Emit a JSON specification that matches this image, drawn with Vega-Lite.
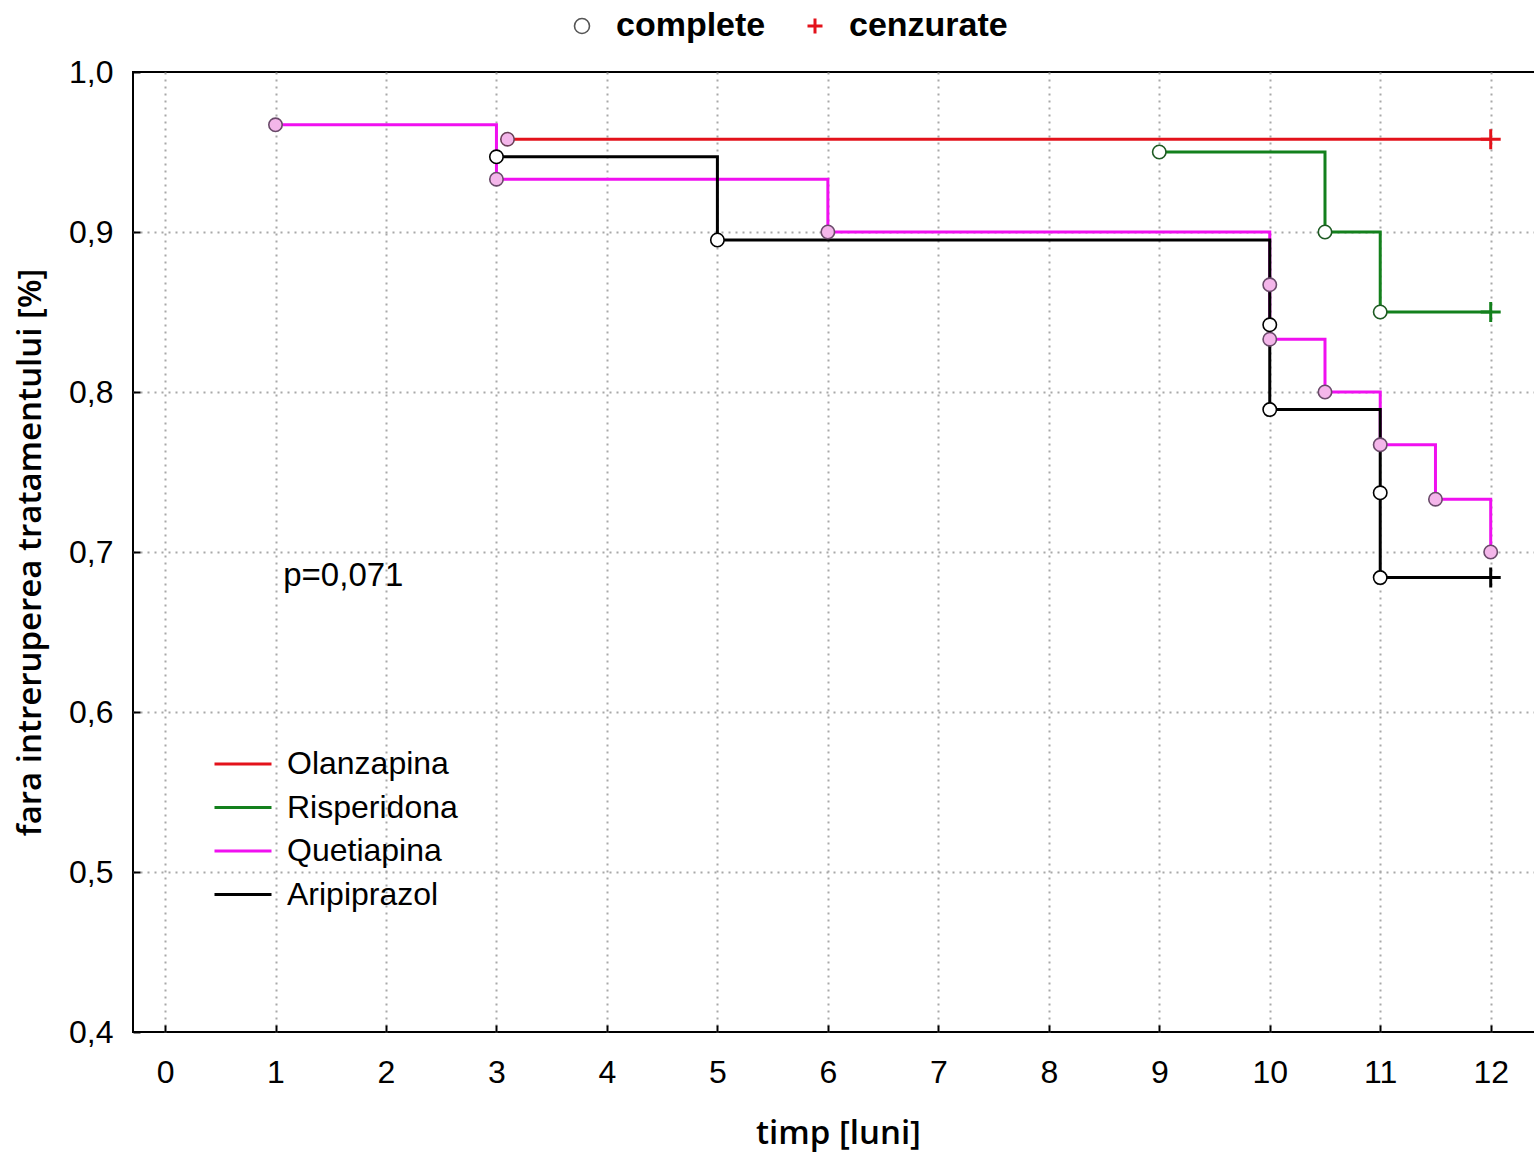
{
  "$schema": "https://vega.github.io/schema/vega-lite/v6.json",
  "width": 1403,
  "height": 960,
  "autosize": {"type": "none"},
  "padding": {"left": 133, "top": 72, "right": 0, "bottom": 121},
  "background": "white",
  "config": {
    "font": "Liberation Sans",
    "view": {"stroke": "black", "strokeWidth": 2},
    "axis": {"labelColor": "black", "titleColor": "black", "labelFont": "Liberation Sans", "labelFontSize": 32}
  },
  "datasets": {
    "km": [
      {"i": 1, "drug": "Olanzapina", "t": 3.1, "s": 0.958, "status": "complete"},
      {"i": 2, "drug": "Olanzapina", "t": 12, "s": 0.958, "status": "cenzurate"},
      {"i": 3, "drug": "Risperidona", "t": 9, "s": 0.95, "status": "complete"},
      {"i": 4, "drug": "Risperidona", "t": 10.5, "s": 0.9, "status": "complete"},
      {"i": 5, "drug": "Risperidona", "t": 11, "s": 0.85, "status": "complete"},
      {"i": 6, "drug": "Risperidona", "t": 12, "s": 0.85, "status": "cenzurate"},
      {"i": 7, "drug": "Quetiapina", "t": 1, "s": 0.967, "status": "complete"},
      {"i": 8, "drug": "Quetiapina", "t": 3, "s": 0.933, "status": "complete"},
      {"i": 9, "drug": "Quetiapina", "t": 6, "s": 0.9, "status": "complete"},
      {"i": 10, "drug": "Quetiapina", "t": 10, "s": 0.867, "status": "complete"},
      {"i": 11, "drug": "Quetiapina", "t": 10, "s": 0.833, "status": "complete"},
      {"i": 12, "drug": "Quetiapina", "t": 10.5, "s": 0.8, "status": "complete"},
      {"i": 13, "drug": "Quetiapina", "t": 11, "s": 0.767, "status": "complete"},
      {"i": 14, "drug": "Quetiapina", "t": 11.5, "s": 0.733, "status": "complete"},
      {"i": 15, "drug": "Quetiapina", "t": 12, "s": 0.7, "status": "complete"},
      {"i": 16, "drug": "Aripiprazol", "t": 3, "s": 0.947, "status": "complete"},
      {"i": 17, "drug": "Aripiprazol", "t": 5, "s": 0.895, "status": "complete"},
      {"i": 18, "drug": "Aripiprazol", "t": 10, "s": 0.842, "status": "complete"},
      {"i": 19, "drug": "Aripiprazol", "t": 10, "s": 0.789, "status": "complete"},
      {"i": 20, "drug": "Aripiprazol", "t": 11, "s": 0.737, "status": "complete"},
      {"i": 21, "drug": "Aripiprazol", "t": 11, "s": 0.684, "status": "complete"},
      {"i": 22, "drug": "Aripiprazol", "t": 12, "s": 0.684, "status": "cenzurate"}
    ],
    "note": [
      {"t": 1.07, "s": 0.685, "label": "p=0,071"}
    ]
  },
  "data": {"name": "km"},
  "resolve": {"scale": {"shape": "independent"}, "legend": {"shape": "independent"}},
  "encoding": {
    "x": {
      "field": "t", "type": "quantitative",
      "scale": {"domain": [-0.29, 12.41], "nice": false, "zero": false},
      "axis": {
        "values": [0,1,2,3,4,5,6,7,8,9,10,11,12],
        "domain": false,
        "tickSize": -7, "tickWidth": 2, "tickColor": "black",
        "labelPadding": 32,
        "grid": true, "gridDash": [2, 5], "gridColor": "#a8a8a8", "gridWidth": 2,
        "title": "timp [luni]",
        "titleFont": "Open Sans", "titleFontSize": 33, "titleFontWeight": 600,
        "titleX": 705, "titleY": 101, "titleBaseline": "middle"
      }
    },
    "y": {
      "field": "s", "type": "quantitative",
      "scale": {"domain": [0.4, 1.0], "nice": false, "zero": false},
      "axis": {
        "values": [0.4,0.5,0.6,0.7,0.8,0.9,1.0],
        "labelExpr": "replace(format(datum.value, '.1f'), '.', ',')",
        "domain": false,
        "tickSize": -7, "tickWidth": 2, "tickColor": "black",
        "labelPadding": 27,
        "grid": true, "gridDash": [2, 5], "gridColor": "#a8a8a8", "gridWidth": 2,
        "gridOpacity": {"condition": {"test": "datum.value < 0.45 || datum.value > 0.95", "value": 0}, "value": 1},
        "title": "fara intreruperea tratamentului [%]",
        "titleFont": "Open Sans", "titleFontSize": 33, "titleFontWeight": 600,
        "titleX": -103, "titleY": 480, "titleBaseline": "middle"
      }
    }
  },
  "layer": [
    {
      "mark": {"type": "line", "interpolate": "step-after", "strokeWidth": 3},
      "encoding": {
        "color": {
          "field": "drug", "type": "nominal",
          "scale": {"domain": ["Olanzapina", "Risperidona", "Quetiapina", "Aripiprazol"], "range": ["#e3121b", "#13801c", "#f010f0", "#000000"]},
          "legend": {
            "title": null, "orient": "none", "legendX": 94, "legendY": 676,
            "symbolType": "M-3,0H3", "symbolSize": 361, "symbolStrokeWidth": 3,
            "labelFontSize": 32, "labelColor": "black", "labelOffset": 28, "labelLimit": 0,
            "rowPadding": 11.5, "padding": 0
          }
        },
        "order": {"field": "i", "type": "quantitative"}
      }
    },
    {
      "transform": [{"filter": "datum.status === 'complete'"}],
      "mark": {"type": "point", "filled": true, "size": 180, "strokeWidth": 1.6, "opacity": 1},
      "encoding": {
        "shape": {
          "field": "status", "type": "nominal",
          "scale": {"domain": ["complete"], "range": ["circle"]},
          "legend": {
            "title": null, "orient": "none",
            "legendX": 432, "legendY": -63, "padding": 0,
            "symbolSize": 225, "symbolFillColor": "#ffffff", "symbolStrokeColor": "#555555", "symbolStrokeWidth": 1.6,
            "labelFontSize": 34, "labelFontWeight": "bold", "labelColor": "black",
            "labelOffset": 17, "labelLimit": 0
          }
        },
        "fill": {
          "field": "drug", "type": "nominal",
          "scale": {"domain": ["Olanzapina", "Risperidona", "Quetiapina", "Aripiprazol"], "range": ["#f4b6ea", "#ffffff", "#f4b6ea", "#ffffff"]},
          "legend": null
        },
        "stroke": {
          "field": "drug", "type": "nominal",
          "scale": {"domain": ["Olanzapina", "Risperidona", "Quetiapina", "Aripiprazol"], "range": ["#6a4058", "#1d5a22", "#6a4a6a", "#000000"]},
          "legend": null
        }
      }
    },
    {
      "transform": [{"filter": "datum.status === 'cenzurate'"}],
      "mark": {"type": "point", "filled": false, "size": 400, "strokeWidth": 3, "opacity": 1},
      "encoding": {
        "shape": {
          "field": "status", "type": "nominal",
          "scale": {"domain": ["cenzurate"], "range": ["M-1,0H1M0,-1V1"]},
          "legend": {
            "title": null, "orient": "none",
            "legendX": 665, "legendY": -63, "padding": 0,
            "symbolSize": 225, "symbolFillColor": "transparent", "symbolStrokeColor": "#e3121b", "symbolStrokeWidth": 3,
            "labelFontSize": 34, "labelFontWeight": "bold", "labelColor": "black",
            "labelOffset": 17, "labelLimit": 0
          }
        },
        "color": {"field": "drug", "type": "nominal"}
      }
    },
    {
      "data": {"name": "note"},
      "mark": {"type": "text", "align": "left", "baseline": "middle", "fontSize": 33, "color": "black", "font": "Liberation Sans"},
      "encoding": {
        "text": {"field": "label", "type": "nominal"}
      }
    }
  ]
}
